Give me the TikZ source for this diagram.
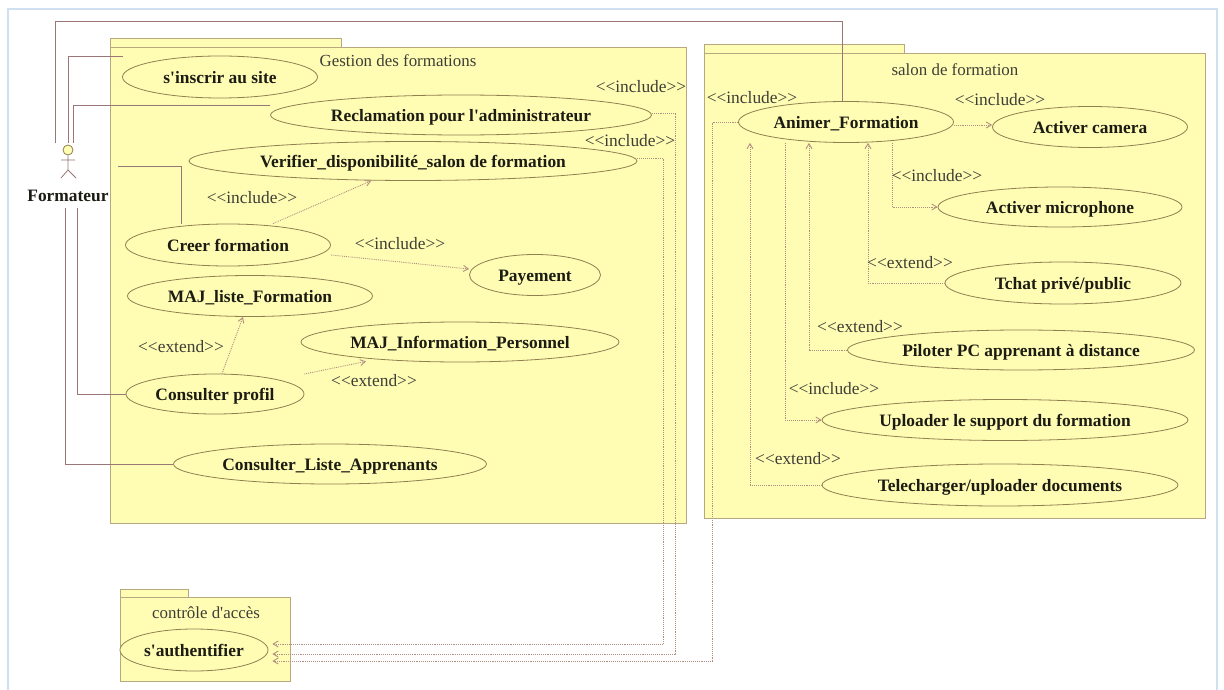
\documentclass[tikz,border=0pt]{standalone}
\usepackage{fontspec}
\newfontfamily\diagfont{Liberation Serif}
\usetikzlibrary{shapes.geometric,arrows.meta}
\definecolor{pkgfill}{HTML}{FFFDB4}
\definecolor{pkgline}{HTML}{B8A882}
\definecolor{ucline}{HTML}{8F8050}
\definecolor{solidline}{HTML}{9A7676}
\definecolor{dotline}{HTML}{B08F80}
\definecolor{frameline}{HTML}{CFE0F1}
\definecolor{txt}{HTML}{1C1C14}
\newcommand{\incl}{<{}<include>{}>}
\newcommand{\extd}{<{}<extend>{}>}
\tikzset{
  pkg/.style={draw=pkgline,fill=pkgfill,line width=1pt},
  uc/.style={ellipse,draw=ucline,fill=pkgfill,line width=.8pt,inner sep=0pt,text=txt,text height=13pt,text depth=0pt,font=\diagfont\fontsize{17.4}{20}\selectfont\bfseries},
  tag/.style={text=txt!85!white,inner sep=0pt,text height=13pt,text depth=0pt,font=\diagfont\fontsize{17.4}{20}\selectfont},
  pkgname/.style={text=txt!85!white,inner sep=0pt,text height=13pt,text depth=0pt,font=\diagfont\fontsize{16.9}{20}\selectfont},
  assoc/.style={draw=solidline,line width=.9pt},
  dep/.style={draw=dotline,line width=.9pt,densely dotted},
  deparrow/.style={dep,-{Straight Barb[length=5pt,width=6pt]}},
}
\begin{document}
\begin{tikzpicture}[x=1pt,y=-1pt]
\useasboundingbox (0,0) rectangle (1224,690);
\fill[white] (0,0) rectangle (1224,690);
\draw[frameline,line width=2pt] (8,691) -- (8,9) -- (1217,9) -- (1217,691);

% packages
\path[pkg] (110,48) -- (110,39) -- (341,39) -- (341,48);
\path[pkg] (110,48) rectangle (686,523);
\path[pkg] (704,54) -- (704,45) -- (904,45) -- (904,54);
\path[pkg] (704,54) rectangle (1205,518);
\path[pkg] (120,597) -- (120,589) -- (188,589) -- (188,597);
\path[pkg] (120,597) rectangle (290,681);
\node[pkgname] (pk1) at (398,60) {Gestion des formations};
\node[pkgname] (pk2) at (955,69) {salon de formation};
\node[pkgname] (pk3) at (206,612) {contrôle d'accès};

% use cases
\node[uc,minimum width=195pt,minimum height=42pt] (insc) at (220,77) {s'inscrir au site};
\node[uc,minimum width=381pt,minimum height=40pt] (recl) at (461,115) {Reclamation pour l'administrateur};
\node[uc,minimum width=448pt,minimum height=39pt] (veri) at (413,161) {Verifier\_disponibilité\_salon de formation};
\node[uc,minimum width=205pt,minimum height=42pt] (creer) at (228,245) {Creer formation};
\node[uc,minimum width=131pt,minimum height=41pt] (pay) at (535,275) {Payement};
\node[uc,minimum width=245pt,minimum height=41pt] (majl) at (250,296) {MAJ\_liste\_Formation};
\node[uc,minimum width=318pt,minimum height=40pt] (maji) at (460,342) {MAJ\_Information\_Personnel};
\node[uc,minimum width=178pt,minimum height=40pt] (prof) at (215,394) {Consulter profil};
\node[uc,minimum width=313pt,minimum height=40pt] (list) at (330,464) {Consulter\_Liste\_Apprenants};
\node[uc,minimum width=215pt,minimum height=41pt] (anim) at (846,122) {Animer\_Formation};
\node[uc,minimum width=195pt,minimum height=41pt] (cam) at (1090,127) {Activer camera};
\node[uc,minimum width=244pt,minimum height=40pt] (micro) at (1060,207) {Activer microphone};
\node[uc,minimum width=236pt,minimum height=42pt] (tchat) at (1063,283) {Tchat privé/public};
\node[uc,minimum width=347pt,minimum height=40pt] (pilot) at (1021,350) {Piloter PC apprenant à distance};
\node[uc,minimum width=366pt,minimum height=41pt] (uplo) at (1005,420) {Uploader le support du formation};
\node[uc,minimum width=356pt,minimum height=42pt] (tele) at (1000,485) {Telecharger/uploader documents};
\node[uc,minimum width=148pt,minimum height=42pt] (auth) at (194,650) {s'authentifier};

% actor
\node[circle,draw=ucline,fill=pkgfill,line width=.8pt,inner sep=0pt,minimum size=10pt] (head) at (68,150) {};
\draw[solidline,line width=.8pt] (head.south) -- (68,170) (61,160) -- (75,160) (61,178) -- (68,170) -- (76,178);
\node[text=txt,inner sep=0pt,text height=13pt,text depth=0pt,font=\diagfont\fontsize{17.4}{20}\selectfont\bfseries] (actor) at (68,195) {Formateur};
\coordinate (a1) at (55,143);
\coordinate (a2) at (68,143);
\coordinate (a3) at (73,143);
\coordinate (a4) at (118,166);
\coordinate (a5) at (65,208);
\coordinate (a6) at (77,208);

% associations
\draw[assoc] (a1) |- (842,21) -- ([xshift=-4pt]anim.north);
\draw[assoc] (a2) |- (123,56);
\draw[assoc] (a3) |- ([yshift=10pt]recl.west);
\draw[assoc] (a4) -| ([xshift=-47pt]creer.north);
\draw[assoc] (a5) |- (list.west);
\draw[assoc] (a6) |- (prof.west);

% to s'authentifier
\draw[deparrow] ([yshift=2pt]recl.east) -- ++(24,0) |- ([xshift=4pt,yshift=-4pt]auth.east);
\draw[deparrow] ([yshift=3pt]veri.east) -- ++(26,0) |- ([xshift=4pt,yshift=6pt]auth.east);
\draw[deparrow] (anim.west) -- ++(-26,0) |- ([xshift=4pt,yshift=-11pt]auth.east);

% gestion
\draw[deparrow] ([xshift=45pt]creer.north) -- ([xshift=-42pt]veri.south);
\draw[deparrow] ([yshift=-10pt]creer.east) -- ([yshift=6pt]pay.west);
\draw[deparrow] ([xshift=7pt]prof.north) -- ([xshift=-7pt]majl.south);
\draw[deparrow] ([yshift=20pt]prof.east) -- ([xshift=-94pt,yshift=1pt]maji.south);

% salon
\draw[deparrow] ([yshift=-3pt]anim.east) -- ([yshift=2pt]cam.west);
\draw[deparrow] ([xshift=46pt]anim.south) |- (micro.west);
\draw[deparrow] (tchat.west) -| ([xshift=22pt]anim.south);
\draw[deparrow] (pilot.west) -| ([xshift=-37pt]anim.south);
\draw[deparrow] ([xshift=-61pt]anim.south) |- (uplo.west);
\draw[deparrow] (tele.west) -| ([xshift=-96pt]anim.south);

% labels
\node[tag] (t1) at (641,86) {\incl};
\node[tag] (t2) at (630,140) {\incl};
\node[tag] (t3) at (752,97) {\incl};
\node[tag] (t4) at (1000,99) {\incl};
\node[tag] (t5) at (937,175) {\incl};
\node[tag] (t6) at (252,197) {\incl};
\node[tag] (t7) at (400,243) {\incl};
\node[tag] (t8) at (834,388) {\incl};
\node[tag] (t9) at (181,346) {\extd};
\node[tag] (t10) at (374,380) {\extd};
\node[tag] (t11) at (910,262) {\extd};
\node[tag] (t12) at (860,326) {\extd};
\node[tag] (t13) at (798,458) {\extd};
\end{tikzpicture}
\end{document}
